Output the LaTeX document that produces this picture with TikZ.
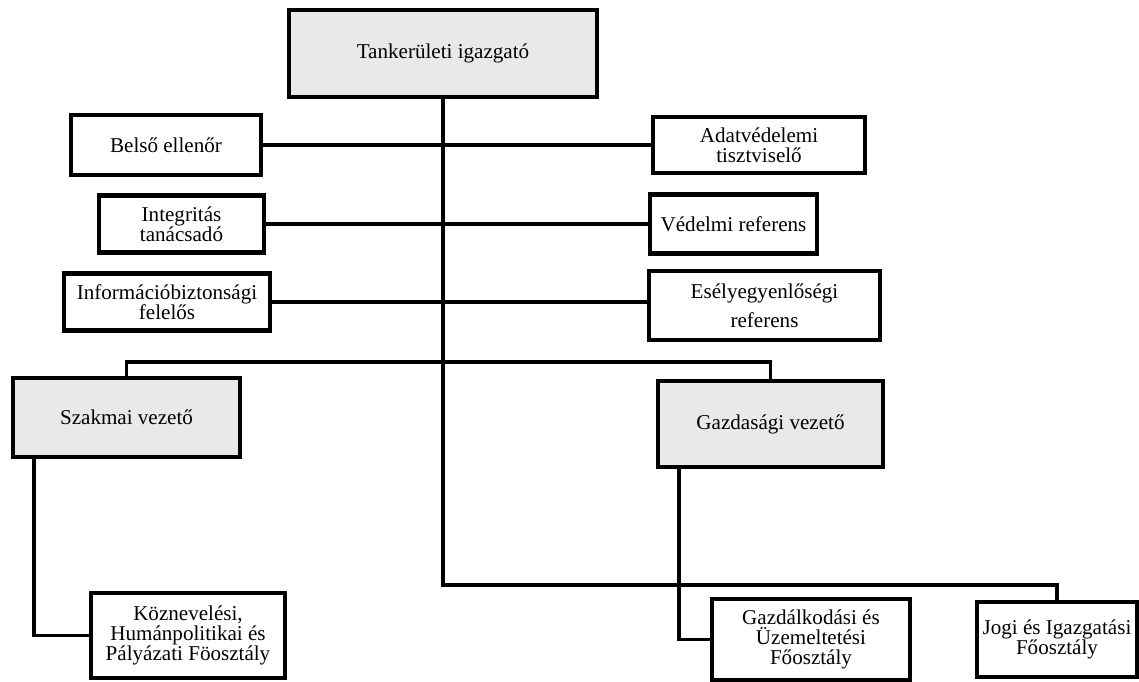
\documentclass[tikz,border=0pt]{standalone}
\usepackage{fontspec}
\setmainfont{Liberation Serif}
\usepackage{tikz}
\usetikzlibrary{positioning}

\begin{document}
\begin{tikzpicture}[
  x=0.02cm, y=-0.02cm,
  box/.style={draw, rectangle, line width=2.3pt, inner sep=0pt, align=center, font=\fontsize{12}{11.5}\selectfont},
  head/.style={box, fill=gray!17},
  link/.style={line width=1.8pt}
]
\useasboundingbox (0,0) rectangle (1139,682);

% Head
\node[head, minimum width=6.16cm, minimum height=1.74cm] (ti) at (443,53.5) {Tankerületi igazgató};

% Staff boxes
\node[box, minimum width=3.8cm, minimum height=1.2cm] (belso) at (166,145) {Belső ellenőr};
\node[box, minimum width=3.3cm, minimum height=1.14cm] (integ) at (181.5,224) {Integritás\\tanácsadó};
\node[box, minimum width=4.12cm, minimum height=1.14cm] (infob) at (167,302) {Információbiztonsági\\felelős};
\node[box, minimum width=4.24cm, minimum height=1.12cm] (adat) at (759,145) {Adatvédelemi\\tisztviselő};
\node[box, minimum width=3.34cm, minimum height=1.18cm] (vedr) at (733.5,224) {Védelmi referens};
\node[box, minimum width=4.62cm, minimum height=1.38cm] (esely) at (764.5,305.5) {Esélyegyenlőségi\\[5pt]referens};

% Leaders
\node[head, minimum width=4.54cm, minimum height=1.58cm] (szak) at (126.5,417.5) {Szakmai vezető};
\node[head, minimum width=4.5cm, minimum height=1.72cm] (gvez) at (770.5,424) {Gazdasági vezető};

% Departments
\node[box, minimum width=3.88cm, minimum height=1.7cm] (kozn) at (188,635.5) {Köznevelési,\\Humánpolitikai és\\Pályázati Föosztály};
\node[box, minimum width=3.96cm, minimum height=1.62cm] (gazd) at (811,639.5) {Gazdálkodási és\\Üzemeltetési\\Főosztály};
\node[box, minimum width=3.2cm, minimum height=1.5cm] (jogi) at (1057,639.5) {Jogi és Igazgatási\\Főosztály};

% Lines
\coordinate (fork) at (443,362);
\coordinate (bot) at (443,585);
\draw[link] (ti.south) -- (bot) -| (jogi.north);
\draw[link] (belso.east) -- (adat.west);
\draw[link] (integ.east) -- (vedr.west);
\draw[link] (infob.east) -- (infob.east -| esely.west);
\draw[link] (szak.north) |- (fork) -| (gvez.north);
\draw[link] ([xshift=0.46cm]szak.south west) |- (kozn.west);
\draw[link] ([xshift=0.46cm]gvez.south west) |- (gazd.west);

\end{tikzpicture}
\end{document}
